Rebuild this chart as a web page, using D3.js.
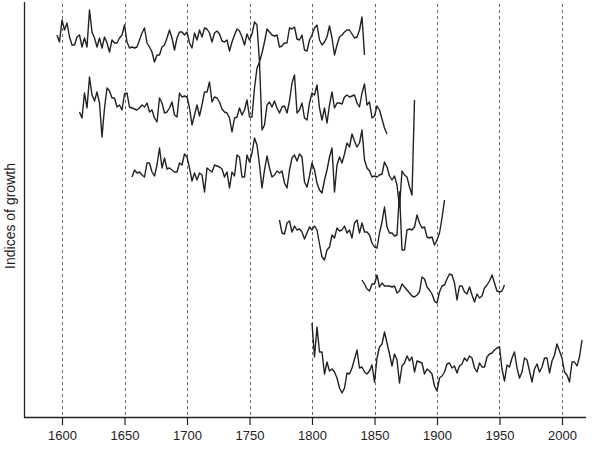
<!DOCTYPE html>
<html>
<head>
<meta charset="utf-8">
<script src="https://cdn.jsdelivr.net/npm/d3@7/dist/d3.min.js"></script>
<style>
  html, body { margin: 0; padding: 0; background: #fff; }
  svg { display: block; }
  text { font-family: "Liberation Sans", Arial, Helvetica, sans-serif; }
</style>
</head>
<body>
<svg id="chart" width="592" height="453"></svg>
<script>
// ---- data (tree-ring growth indices, sampled every 2 years) ----
const tickYears = [1600, 1650, 1700, 1750, 1800, 1850, 1900, 1950, 2000];
const yLabel = "Indices of growth";
const seriesStart = [1596, 1614, 1656, 1774, 1840, 1800];
const yearStep = 2;

const s1Values = [
  1.03,0.96,1.18,1.08,1.15,1.01,0.93,0.93,1.01,1.03,
  0.91,1.00,0.91,1.28,1.06,1.00,0.91,1.00,0.90,1.01,
  0.95,0.86,0.98,0.95,0.95,1.00,1.03,1.13,0.96,0.90,
  0.91,0.90,0.91,0.98,1.05,1.10,0.95,0.91,0.86,0.76,
  0.83,0.83,0.91,0.93,1.00,1.08,1.00,0.88,1.00,1.06,
  1.06,1.03,1.06,0.95,0.90,1.05,0.98,1.08,1.01,1.10,
  1.09,
  1.05,0.96,1.05,1.07,1.04,0.97,0.96,0.98,0.87,0.96,
  1.03,1.09,1.07,1.01,0.93,1.04,0.98,1.04,1.16,1.13,
  0.76,0.85,0.96,1.09,1.06,1.03,1.02,1.03,0.91,0.92,
  0.95,0.95,1.10,1.09,1.11,0.99,0.98,1.03,0.88,0.87,
  0.98,1.03,1.10,1.13,0.98,0.93,0.96,1.01,1.12,1.00,
  0.83,0.93,1.01,1.03,1.06,1.08,1.08,1.04,1.00,1.01,
  1.08,1.21,0.83
];
const s2Values = [
  0.88,0.82,1.07,0.92,1.23,1.05,0.99,1.08,0.97,0.63,
  0.92,1.12,1.09,1.02,1.02,0.93,0.95,0.90,1.06,1.07,
  0.93,0.92,0.91,0.90,0.92,0.95,0.93,0.97,0.88,0.90,
  0.82,0.78,1.02,0.97,0.87,0.88,0.92,0.98,0.85,0.83,
  1.07,1.03,1.04,1.03,0.92,0.75,0.85,0.95,0.84,0.95,
  1.08,1.08,1.18,0.98,1.03,1.02,0.98,0.91,0.88,0.87,
  0.82,0.68,
  0.82,0.83,0.92,0.85,0.90,1.00,0.83,0.83,1.12,1.32,
  1.38,0.70,0.75,0.95,0.98,0.93,0.99,0.92,0.87,0.93,
  0.94,0.87,0.99,1.17,1.25,0.87,0.90,0.97,0.82,0.80,
  0.97,1.07,1.05,1.15,0.92,0.80,0.92,0.77,0.95,1.08,
  0.92,0.97,0.97,0.96,1.03,1.05,1.03,1.04,1.05,0.97,
  0.93,1.07,1.16,0.95,0.98,0.82,0.84,0.94,0.90,0.81,
  0.72,0.66
];
const s3Values = [
  0.88,0.95,0.92,0.93,0.90,0.88,1.02,1.02,0.93,0.89,
  1.00,1.17,0.97,1.07,0.96,0.97,0.95,0.93,0.93,1.02,
  1.00,1.11,1.08,0.97,0.84,0.92,0.85,0.92,0.90,0.73,
  0.97,0.95,0.93,1.00,0.99,0.98,0.96,0.88,0.93,0.77,
  0.93,0.89,1.10,1.08,0.88,0.88,1.10,1.03,1.12,1.27,
  1.20,1.00,0.77,0.95,1.09,0.97,0.88,0.90,
  0.94,0.92,0.94,0.82,0.77,0.95,1.07,1.10,1.04,1.11,
  1.08,0.83,0.78,0.89,1.02,0.95,0.82,0.75,0.72,0.85,
  0.95,1.08,1.17,0.73,1.00,1.08,1.02,1.11,1.22,1.18,
  1.31,1.24,1.18,1.22,1.35,1.05,0.97,0.94,0.88,0.89,
  0.88,0.90,0.91,1.03,0.98,0.89,0.85,0.89,0.80,0.58,
  0.94,0.90,0.88,0.78,0.70,1.65
];
const s4Values = [
  1.10,0.97,0.96,1.07,1.09,0.98,1.04,1.00,1.01,0.98,
  0.91,0.97,1.03,1.00,1.04,1.00,0.86,0.73,0.70,0.80,
  0.83,0.95,0.92,1.02,0.99,1.00,1.04,0.97,1.00,0.92,
  1.07,1.10,0.97,1.07,0.98,0.98,0.95,0.87,0.83,0.82,
  0.97,1.08,1.23,1.03,0.97,0.97,0.94,0.95,1.38,0.80,
  0.80,1.00,1.01,1.00,1.03,1.15,1.07,1.02,1.03,0.93,
  0.92,0.93,0.85,0.90,0.97,1.12,1.30
];
const s5Values = [
  1.05,1.01,0.96,0.94,1.01,1.01,1.10,0.98,
  1.02,0.99,0.99,0.99,0.98,0.99,0.92,0.94,
  1.01,0.98,0.95,0.92,0.89,0.88,0.90,0.93,
  1.08,1.06,0.98,0.95,0.91,0.84,0.82,0.93,
  0.99,1.00,1.06,1.11,1.10,1.02,0.85,0.99,
  0.99,0.93,0.91,0.98,0.90,0.83,0.91,0.87,
  0.89,0.97,1.00,1.04,1.10,1.02,0.94,0.93,
  0.94,1.00
];
const s6Values = [
  1.37,1.03,1.33,1.08,1.08,0.86,0.98,0.89,0.91,0.88,
  0.82,0.72,0.67,0.72,0.87,0.86,0.92,1.01,1.10,0.92,
  0.93,0.88,0.86,0.89,0.95,0.78,1.02,1.13,1.16,1.28,
  1.17,1.06,0.94,1.06,1.00,0.77,0.94,0.97,1.04,0.99,
  1.03,0.88,0.99,0.98,0.97,0.86,0.91,0.89,0.86,0.74,
  0.69,0.82,0.84,0.88,0.96,0.97,
  0.92,0.94,0.87,0.94,0.96,1.02,0.99,1.04,1.02,0.92,
  0.88,0.97,0.93,0.93,1.03,1.06,1.07,1.10,1.12,1.13,
  0.91,0.79,0.95,0.93,1.02,1.08,0.92,0.82,0.88,1.02,
  1.00,0.89,0.78,0.91,0.96,0.88,0.93,1.02,1.02,0.87,
  0.99,1.05,1.16,1.09,1.02,0.88,0.85,0.78,0.98,0.98,
  0.94,1.03,1.20
];
const allValues = [s1Values, s2Values, s3Values, s4Values, s5Values, s6Values];

// ---- layout ----
const seriesOffset = [2.79, 2.17, 1.52, 0.87, 0.32, -0.43]; // vertical stacking
const W = 592, H = 453;
const plotLeft = 24, plotRight = 585, plotTop = 4, plotBottom = 417;

const svg = d3.select("#chart");

const x = d3.scaleLinear().domain([1569.6, 2018.4]).range([plotLeft, plotRight]);
const y = d3.scaleLinear().domain([0, 4.13]).range([plotBottom, plotTop]);

// dashed vertical grid lines
svg.append("g")
  .selectAll("line")
  .data(tickYears)
  .join("line")
  .attr("x1", d => Math.round(x(d)) + 0.5)
  .attr("x2", d => Math.round(x(d)) + 0.5)
  .attr("y1", plotTop)
  .attr("y2", plotBottom)
  .attr("stroke", "#666")
  .attr("stroke-width", 1)
  .attr("stroke-dasharray", "3,3");

// series
const line = d3.line()
  .x(d => x(d.year))
  .y(d => y(d.value));

allValues.forEach((vals, k) => {
  const pts = vals.map((v, i) => ({ year: seriesStart[k] + i * yearStep, value: v + seriesOffset[k] }));
  svg.append("path")
    .datum(pts)
    .attr("fill", "none")
    .attr("stroke", "#222")
    .attr("stroke-width", 1.4)
    .attr("stroke-linejoin", "round")
    .attr("d", line);
});

// bottom axis
const xAxis = d3.axisBottom(x)
  .tickValues(tickYears)
  .tickFormat(d3.format("d"))
  .tickSize(8)
  .tickSizeOuter(0)
  .tickPadding(6);

const gx = svg.append("g")
  .attr("transform", `translate(0,${plotBottom})`)
  .call(xAxis);
gx.select(".domain").remove();
gx.selectAll(".tick line").attr("stroke", "#222").attr("stroke-width", 1.2);
gx.selectAll(".tick text")
  .attr("fill", "#222")
  .style("font-size", "13px")
  .style("font-family", "'Liberation Sans', Arial, sans-serif");

// axis lines (left and bottom)
svg.append("line")
  .attr("x1", plotLeft).attr("x2", plotRight + 1)
  .attr("y1", plotBottom + 0.5).attr("y2", plotBottom + 0.5)
  .attr("stroke", "#222").attr("stroke-width", 1.3);
svg.append("line")
  .attr("x1", plotLeft + 0.5).attr("x2", plotLeft + 0.5)
  .attr("y1", plotTop - 2).attr("y2", plotBottom + 1)
  .attr("stroke", "#222").attr("stroke-width", 1.3);

// y label
svg.append("text")
  .attr("transform", `translate(15,${216}) rotate(-90)`)
  .attr("text-anchor", "middle")
  .attr("fill", "#222")
  .style("font-size", "14px")
  .text(yLabel);
</script>
</body>
</html>
